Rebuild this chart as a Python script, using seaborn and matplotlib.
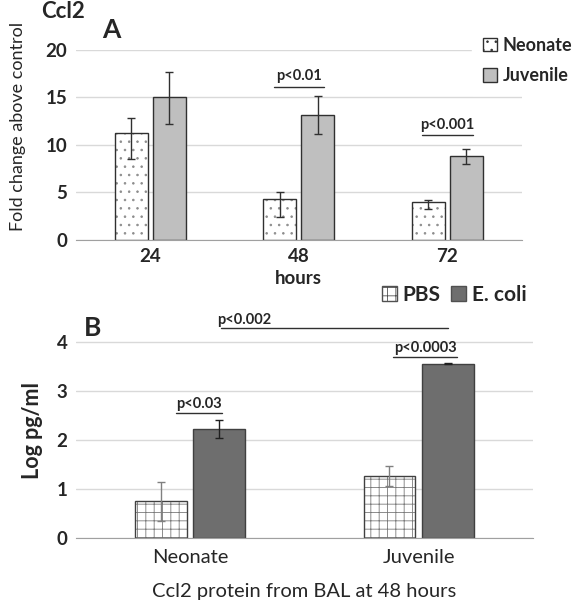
import numpy as np
import pandas as pd
import matplotlib
matplotlib.use('Agg')
import matplotlib.pyplot as plt
import seaborn as sns
from matplotlib.patches import Patch, Rectangle

# Panel A data: fold change above control
hours = ['24', '48', '72']
neonate_fold = [11.3, 4.3, 4.0]
neonate_lo = [8.5, 2.4, 3.3]
neonate_hi = [12.8, 5.0, 4.2]
juvenile_fold = [15.0, 13.2, 8.8]
juvenile_lo = [12.2, 11.2, 8.0]
juvenile_hi = [17.7, 15.2, 9.6]
a_pvals = ['', 'p<0.01', 'p<0.001']
a_pval_y = [None, 16.1, 11.0]

# Panel B data: log pg/ml
ages = ['Neonate', 'Juvenile']
pbs_log = [0.75, 1.27]
pbs_err = [0.40, 0.20]
ecoli_log = [2.23, 3.56]
ecoli_err = [0.18, 0.01]

sns.set_style('white')
plt.rcParams['font.family'] = ['Lato', 'DejaVu Sans']
plt.rcParams['hatch.linewidth'] = 0.6

dfA = pd.DataFrame({
    'hours': hours * 2,
    'fold': neonate_fold + juvenile_fold,
    'group': ['Neonate'] * 3 + ['Juvenile'] * 3,
})
dfB = pd.DataFrame({
    'age': ages * 2,
    'log': pbs_log + ecoli_log,
    'treat': ['PBS'] * 2 + ['E. coli'] * 2,
})

fig = plt.figure(figsize=(5.83, 6), dpi=100)
axA = fig.add_axes([0.130, 0.60, 0.765, 0.3167])
axB = fig.add_axes([0.130, 0.1033, 0.784, 0.3593])


def style_bars(ax, cont, fc, hatch, hatch_col, edge_col):
    # hatch colour follows the edge colour, so draw the outline on top separately
    xs = []
    for bar in cont:
        bar.set_facecolor(fc)
        bar.set_hatch(hatch)
        bar.set_edgecolor(hatch_col if hatch else edge_col)
        bar.set_linewidth(0 if hatch else 1.0)
        if hatch:
            ax.add_patch(Rectangle(bar.get_xy(), bar.get_width(), bar.get_height(),
                                   fill=False, ec=edge_col, lw=1.0, zorder=bar.get_zorder() + 0.1))
        xs.append(bar.get_x() + bar.get_width() / 2)
    return xs


# ---- Panel A ----
sns.barplot(data=dfA, x='hours', y='fold', hue='group', order=hours,
            hue_order=['Neonate', 'Juvenile'], palette=['white', '#BFBFBF'],
            width=0.51, gap=0.13, errorbar=None, legend=False, ax=axA)
styleA = [('white', '..', '#8C8C8C'), ('#BFBFBF', '', None)]
errsA = [(neonate_fold, neonate_lo, neonate_hi), (juvenile_fold, juvenile_lo, juvenile_hi)]
for cont, (fc, hatch, hcol), (vals, lo, hi) in zip(axA.containers, styleA, errsA):
    xs = style_bars(axA, cont, fc, hatch, hcol, '#303030')
    yerr = [np.array(vals) - np.array(lo), np.array(hi) - np.array(vals)]
    axA.errorbar(xs, vals, yerr=yerr, fmt='none', ecolor='#303030', elinewidth=1,
                 capsize=3, capthick=1, zorder=4)

axA.set_xlim(-0.5, 2.5)
axA.set_ylim(0, 20)
axA.set_yticks([0, 5, 10, 15, 20])
axA.yaxis.grid(True, color='#D9D9D9', lw=1)
axA.set_axisbelow(True)
for s in ['top', 'right', 'left']:
    axA.spines[s].set_visible(False)
axA.spines['bottom'].set_color('#A0A0A0')
axA.tick_params(length=0, labelsize=13.5, pad=6)
for lab in axA.get_xticklabels() + axA.get_yticklabels():
    lab.set_fontweight('bold')
axA.set_xlabel('hours', fontsize=13.5, fontweight='bold', labelpad=3)
axA.set_ylabel('Fold change above control', fontsize=13)
axA.yaxis.set_label_coords(-0.112, 0.6)

for i, (txt, yv) in enumerate(zip(a_pvals, a_pval_y)):
    if txt:
        axA.text(i, yv + 0.4, txt, ha='center', va='bottom', fontsize=10.5, fontweight='bold')
        axA.plot([i - 0.17, i + 0.17], [yv, yv], color='#303030', lw=1)

axA.legend(handles=[Patch(fc='white', ec='#303030', hatch='..', label='Neonate'),
                    Patch(fc='#BFBFBF', ec='#303030', label='Juvenile')],
           loc='upper left', bbox_to_anchor=(472 / 583, 1 - 26 / 600),
           bbox_transform=fig.transFigure, frameon=True, facecolor='white',
           edgecolor='white', framealpha=1, fancybox=False,
           handlelength=0.8, handleheight=0.8, handletextpad=0.3,
           labelspacing=0.75, borderpad=0.6, borderaxespad=0,
           prop={'size': 13, 'weight': 'bold'})

fig.text(41 / 583, 1 - 12 / 600, 'Ccl2', fontsize=16, fontweight='bold', va='center')
fig.text(102 / 583, 1 - 30 / 600, 'A', fontsize=19, fontweight='bold', va='center')

# ---- Panel B ----
sns.barplot(data=dfB, x='age', y='log', hue='treat', order=ages,
            hue_order=['PBS', 'E. coli'], palette=['white', '#6E6E6E'],
            width=0.51, gap=0.11, errorbar=None, legend=False, ax=axB)
styleB = [('white', '++', '#7A7A7A', '#808080'), ('#6E6E6E', '', None, '#202020')]
errsB = [(pbs_log, pbs_err), (ecoli_log, ecoli_err)]
for cont, (fc, hatch, hcol, ecol), (vals, err) in zip(axB.containers, styleB, errsB):
    xs = style_bars(axB, cont, fc, hatch, hcol, '#404040')
    axB.errorbar(xs, vals, yerr=err, fmt='none', ecolor=ecol, elinewidth=1,
                 capsize=3, capthick=1, zorder=4)

axB.set_xlim(-0.5, 1.5)
axB.set_ylim(0, 4.4)
axB.set_yticks([0, 1, 2, 3, 4])
axB.yaxis.grid(True, color='#D9D9D9', lw=1)
axB.set_axisbelow(True)
for s in ['top', 'right', 'left']:
    axB.spines[s].set_visible(False)
axB.spines['bottom'].set_color('#A0A0A0')
axB.tick_params(length=0, labelsize=13.5, pad=6)
axB.tick_params(axis='x', labelsize=14.5, pad=8)
for lab in axB.get_yticklabels():
    lab.set_fontweight('bold')
axB.set_xlabel('Ccl2 protein from BAL at 48 hours', fontsize=14.5, labelpad=12)
axB.set_ylabel('Log pg/ml', fontsize=15.5, fontweight='bold', labelpad=10)

# significance marks
axB.text(0.04, 2.55 + 0.04, 'p<0.03', ha='center', va='bottom', fontsize=10.5, fontweight='bold')
axB.plot([-0.06, 0.14], [2.55, 2.55], color='#303030', lw=1)
axB.text(1.03, 3.70 + 0.04, 'p<0.0003', ha='center', va='bottom', fontsize=10.5, fontweight='bold')
axB.plot([0.89, 1.17], [3.70, 3.70], color='#303030', lw=1)
axB.text(0.237, 4.29 + 0.02, 'p<0.002', ha='center', va='bottom', fontsize=10.5, fontweight='bold')
axB.plot([0.135, 1.13], [4.29, 4.29], color='#303030', lw=1, clip_on=False)

axB.legend(handles=[Patch(fc='white', ec='#505050', hatch='++', label='PBS'),
                    Patch(fc='#6E6E6E', ec='#505050', label='E. coli')],
           loc='center right', bbox_to_anchor=(535 / 583, 1 - 295 / 600),
           bbox_transform=fig.transFigure, ncol=2, frameon=False,
           handlelength=0.7, handleheight=0.7, handletextpad=0.3,
           columnspacing=0.5, borderaxespad=0,
           prop={'size': 15, 'weight': 'bold'})

fig.text(84 / 583, 1 - 328 / 600, 'B', fontsize=19, fontweight='bold', va='center')

fig.savefig('out.png', dpi=100)
